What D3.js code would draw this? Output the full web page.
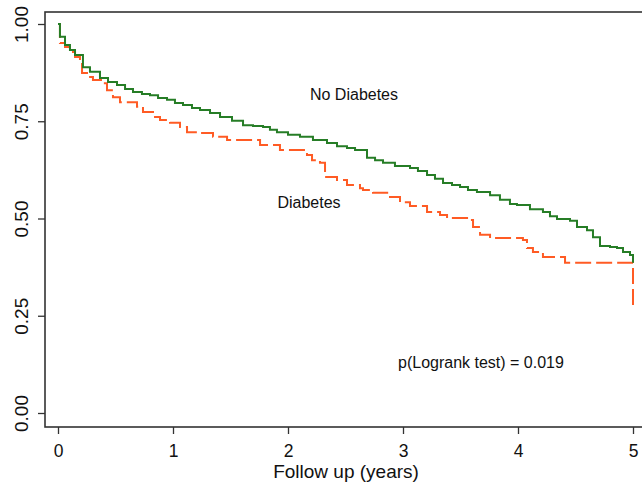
<!DOCTYPE html>
<html>
<head>
<meta charset="utf-8">
<script src="https://cdn.jsdelivr.net/npm/d3@7"></script>
<style>
  body { margin: 0; background: #fff; }
  svg { display: block; font-family: "Liberation Sans", Arial, sans-serif; }
</style>
</head>
<body>
<div class="canvas"></div>
<script>
// Kaplan-Meier estimates
const noDiabTime = [0, 0.017, 0.061, 0.104, 0.148, 0.217, 0.278, 0.365, 0.435, 0.513, 0.583, 0.652, 0.730, 0.800,
  0.870, 0.948, 1.017, 1.087, 1.165, 1.235, 1.322, 1.409, 1.513, 1.609, 1.696, 1.783, 1.843, 1.904, 2.000,
  2.104, 2.217, 2.339, 2.426, 2.513, 2.583, 2.687, 2.757, 2.826, 2.930, 3.061, 3.130, 3.209, 3.278, 3.348,
  3.426, 3.496, 3.565, 3.643, 3.757, 3.843, 3.930, 3.991, 4.104, 4.217, 4.278, 4.339, 4.452, 4.513, 4.600,
  4.652, 4.713, 4.800, 4.861, 4.913, 4.974, 5.0];
const noDiabSurv = [1, 0.967, 0.946, 0.933, 0.920, 0.889, 0.877, 0.861, 0.851, 0.843, 0.833, 0.825, 0.820, 0.817,
  0.810, 0.805, 0.797, 0.792, 0.784, 0.779, 0.771, 0.761, 0.751, 0.740, 0.738, 0.735, 0.728, 0.722, 0.715,
  0.710, 0.702, 0.694, 0.686, 0.681, 0.676, 0.656, 0.650, 0.643, 0.635, 0.630, 0.622, 0.612, 0.602, 0.591,
  0.586, 0.581, 0.573, 0.568, 0.560, 0.548, 0.537, 0.535, 0.524, 0.517, 0.506, 0.499, 0.494, 0.478, 0.470,
  0.452, 0.429, 0.427, 0.424, 0.414, 0.406, 0.386];

const diabTime = [0, 0.017, 0.061, 0.104, 0.148, 0.191, 0.209, 0.252, 0.304, 0.391, 0.426, 0.478, 0.539, 0.687,
  0.739, 0.826, 0.887, 0.974, 1.061, 1.122, 1.235, 1.348, 1.470, 1.757, 1.930, 2.165, 2.209, 2.278, 2.322,
  2.426, 2.513, 2.626, 2.652, 2.739, 2.887, 2.974, 3.061, 3.209, 3.322, 3.383, 3.557, 3.609, 3.670, 3.757,
  4.043, 4.078, 4.130, 4.217, 4.409, 5.0];
const diabSurv = [1, 0.951, 0.941, 0.928, 0.915, 0.900, 0.874, 0.864, 0.856, 0.848, 0.830, 0.812, 0.799, 0.787,
  0.774, 0.761, 0.753, 0.746, 0.735, 0.722, 0.720, 0.710, 0.702, 0.689, 0.676, 0.663, 0.650, 0.643, 0.607,
  0.599, 0.586, 0.578, 0.573, 0.566, 0.555, 0.542, 0.532, 0.517, 0.509, 0.501, 0.496, 0.478, 0.458, 0.450,
  0.445, 0.424, 0.414, 0.401, 0.386, 0.265];

const xTicks = [0, 1, 2, 3, 4, 5];
const yTicks = [0, 0.25, 0.5, 0.75, 1];

const width = 642, height = 485;

const svg = d3.select('.canvas')
    .append('svg')
    .attr('width', width)
    .attr('height', height);

const x = d3.scaleLinear().domain([0, 5]).range([58, 633]);
const y = d3.scaleLinear().domain([0, 1]).range([413, 24]);

// plot region frame (runs off the right edge like the original)
svg.append('rect')
    .attr('x', 45).attr('y', 12)
    .attr('width', 620).attr('height', 415)
    .attr('fill', 'none')
    .attr('stroke', '#333')
    .attr('stroke-width', 1.6);

const xAxis = svg.append('g')
    .attr('transform', 'translate(0, 427)')
    .call(d3.axisBottom(x).tickValues(xTicks).tickFormat(d3.format('d')).tickSize(7).tickSizeOuter(0));

xAxis.select('.domain').remove();
xAxis.selectAll('line').attr('stroke', '#333').attr('stroke-width', 1.3);
xAxis.selectAll('text')
    .attr('y', 30).attr('dy', 0)
    .attr('fill', '#111')
    .style('font-size', '17.5px');

const yAxis = svg.append('g')
    .attr('transform', 'translate(45, 0)')
    .call(d3.axisLeft(y).tickValues(yTicks).tickFormat(d3.format('.2f')).tickSize(7).tickSizeOuter(0));

yAxis.select('.domain').remove();
yAxis.selectAll('line').attr('stroke', '#333').attr('stroke-width', 1.3);
yAxis.selectAll('text')
    .attr('transform', 'rotate(-90)')
    .attr('x', 0).attr('y', -17).attr('dy', 0)
    .attr('text-anchor', 'middle')
    .attr('fill', '#111')
    .style('font-size', '19px');

svg.append('text')
    .attr('x', 346).attr('y', 478)
    .attr('text-anchor', 'middle')
    .attr('fill', '#111')
    .style('font-size', '19px')
    .text('Follow up (years)');

// curves
const line = d3.line()
    .x(d => x(d[0]))
    .y(d => y(d[1]))
    .curve(d3.curveStepAfter);

const noDiab = d3.zip(noDiabTime, noDiabSurv);
const diab = d3.zip(diabTime, diabSurv);

svg.append('path')
    .datum(diab)
    .attr('d', line)
    .attr('fill', 'none')
    .attr('stroke', '#ff5b24')
    .attr('stroke-width', 2)
    .attr('stroke-dasharray', '16,5');

svg.append('path')
    .datum(noDiab)
    .attr('d', line)
    .attr('fill', 'none')
    .attr('stroke', '#267d26')
    .attr('stroke-width', 2);

// annotations
svg.append('text')
    .attr('x', 354).attr('y', 100)
    .attr('text-anchor', 'middle')
    .attr('fill', '#111')
    .style('font-size', '16px')
    .text('No Diabetes');

svg.append('text')
    .attr('x', 309).attr('y', 208)
    .attr('text-anchor', 'middle')
    .attr('fill', '#111')
    .style('font-size', '16px')
    .text('Diabetes');

svg.append('text')
    .attr('x', 398).attr('y', 368)
    .attr('fill', '#111')
    .style('font-size', '16px')
    .text('p(Logrank test) = 0.019');
</script>
</body>
</html>
